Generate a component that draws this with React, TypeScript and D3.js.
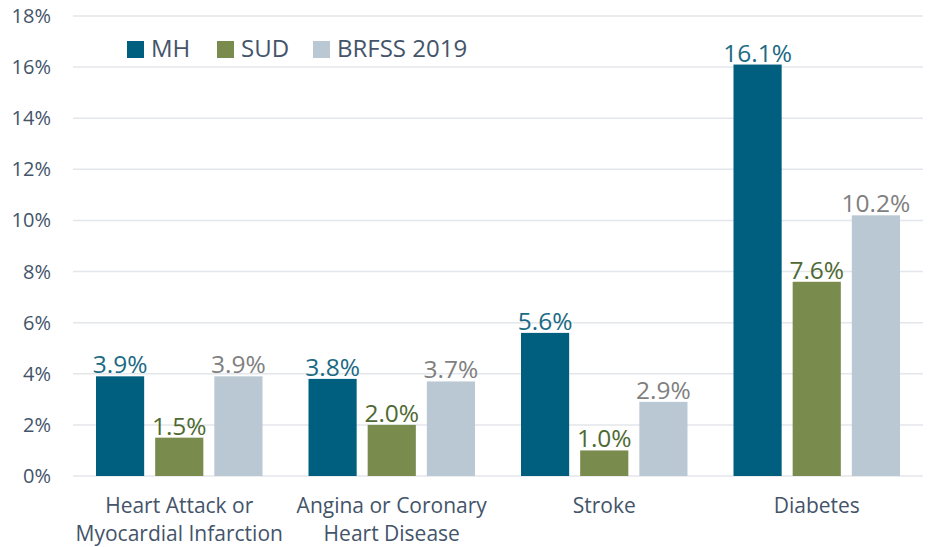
import React from 'react'
import * as d3 from 'd3'

const categories = [
  ['Heart Attack or', 'Myocardial Infarction'],
  ['Angina or Coronary', 'Heart Disease'],
  ['Stroke'],
  ['Diabetes'],
]
const seriesNames = ['MH', 'SUD', 'BRFSS 2019']
const mhValues = [3.9, 3.8, 5.6, 16.1]
const sudValues = [1.5, 2.0, 1.0, 7.6]
const brfssValues = [3.9, 3.7, 2.9, 10.2]
const yTicks = [0, 2, 4, 6, 8, 10, 12, 14, 16, 18]

const barColors = ['#005f7f', '#7a8b4e', '#bac8d3']
const labelColors = ['#1b6a84', '#4e6a32', '#7f7f7f']
const axisColor = '#44546a'
const font = '"Open Sans", sans-serif'

export default function App() {
  const width = 930
  const height = 547
  const margin = { top: 16, right: 7, bottom: 71, left: 73 }
  const series = [mhValues, sudValues, brfssValues]

  const x = d3.scaleBand<number>()
    .domain(d3.range(categories.length))
    .range([margin.left, width - margin.right])
  const xs = d3.scaleBand<number>()
    .domain(d3.range(series.length))
    .range([23, x.bandwidth() - 23])
    .paddingInner(0.186)
  const y = d3.scaleLinear().domain([0, 18]).range([height - margin.bottom, margin.top])

  const legendX = [127, 217, 313]

  return (
    <svg width={width} height={height} style={{ position: 'absolute', left: 0, top: 0, background: '#fff' }}>
      {yTicks.map(t => (
        <g key={t}>
          <line x1={margin.left} x2={width - margin.right} y1={y(t)} y2={y(t)} stroke="#e3e6ea" strokeWidth={1.5} />
          <text x={51} y={y(t)} dy="0.35em" textAnchor="end" fontFamily={font} fontSize={20} fill={axisColor}>{t}%</text>
        </g>
      ))}
      {series.map((vals, si) => vals.map((v, ci) => {
        const bx = x(ci)! + xs(si)!
        const bw = xs.bandwidth()
        return (
          <g key={`${si}-${ci}`}>
            <rect x={bx} y={y(v)} width={bw} height={y(0) - y(v)} fill={barColors[si]} />
            <text x={bx + bw / 2} y={y(v) - 3} textAnchor="middle" fontFamily={font} fontSize={24.5} fill={labelColors[si]}>
              {v.toFixed(1)}%
            </text>
          </g>
        )
      }))}
      {categories.map((lines, ci) => (
        <text key={ci} x={x(ci)! + x.bandwidth() / 2} y={513} textAnchor="middle" fontFamily={font} fontSize={21} fill={axisColor}>
          {lines.map((l, li) => (
            <tspan key={li} x={x(ci)! + x.bandwidth() / 2} dy={li === 0 ? 0 : 28}>{l}</tspan>
          ))}
        </text>
      ))}
      {seriesNames.map((n, i) => (
        <g key={n}>
          <rect x={legendX[i]} y={41} width={17} height={17} fill={barColors[i]} />
          <text x={legendX[i] + 24} y={57} fontFamily={font} fontSize={24} fill={axisColor}>{n}</text>
        </g>
      ))}
    </svg>
  )
}
